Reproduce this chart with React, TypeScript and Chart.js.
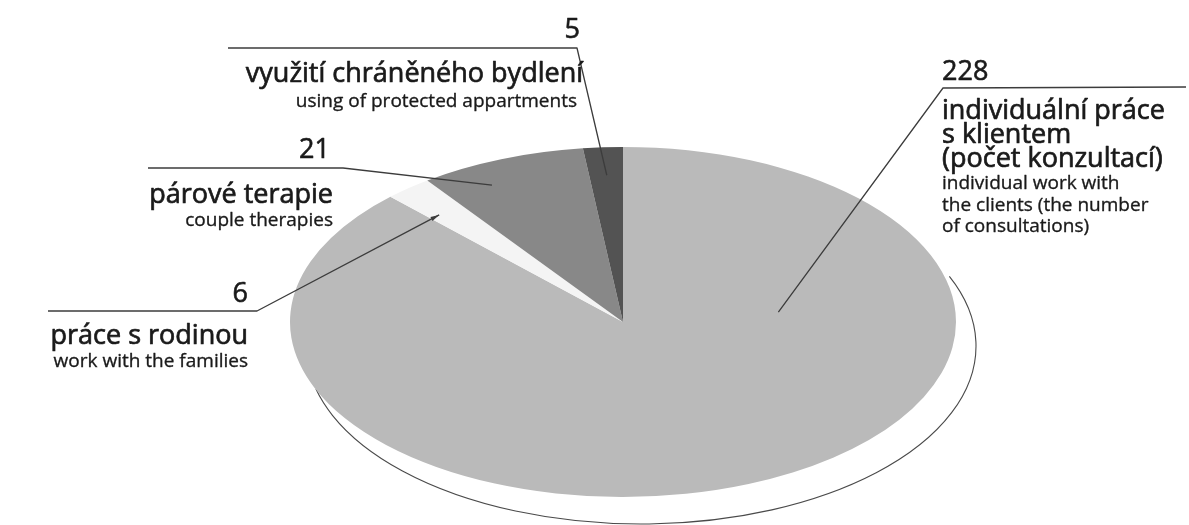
import React, { useEffect, useRef } from "react";
import { Chart, registerables } from "chart.js";

Chart.register(...registerables);

// ---- data ----
const categoriesCz: string[][] = [
  ["individuální práce", "s klientem", "(počet konzultací)"],
  ["práce s rodinou"],
  ["párové terapie"],
  ["využití chráněného bydlení"],
];
const categoriesEn: string[][] = [
  ["individual work with", "the clients (the number", "of consultations)"],
  ["work with the families"],
  ["couple therapies"],
  ["using of protected appartments"],
];
const values = [228, 6, 21, 5];
const sliceColors = ["#bababa", "#f4f4f4", "#888888", "#535353"];

// ---- layout (positions / styles) ----
const W = 1189;
const H = 525;
const CX = 623;
const CY = 322;
const RX = 333;
const RY = 175;
const FONT = '"Open Sans", "DejaVu Sans", sans-serif';
const TEXT_COLOR = "#1a1a1a";
const LINE_COLOR = "#3c3c3c";

type Layout = {
  align: "left" | "right";
  numX: number;
  numY: number;
  x: number;
  czY: number;
  enX: number;
  enY: number;
  line: number[][];
  target: number[]; // [fraction along slice angle, fraction of radius]
  arrow?: boolean;
};

const labelLayout: Layout[] = [
  { align: "left", numX: 942, numY: 80, x: 942, czY: 119, enX: 942, enY: 189, line: [[1186, 87], [943, 88]], target: [0.263, 0.47] },
  { align: "right", numX: 248, numY: 302, x: 248, czY: 344, enX: 248, enY: 367, line: [[48, 311], [257, 311]], target: [0.27, 0.824], arrow: true },
  { align: "right", numX: 330, numY: 158, x: 333, czY: 203, enX: 333, enY: 226, line: [[148, 168], [343, 168]], target: [0.32, 0.876] },
  { align: "right", numX: 580, numY: 38, x: 583, czY: 82, enX: 577, enY: 107, line: [[228, 48], [577, 48]], target: [0.52, 0.84] },
];

function drawText(ctx: CanvasRenderingContext2D, t: string, x: number, y: number, stroke: number) {
  ctx.fillText(t, x, y);
  if (stroke > 0) {
    ctx.lineWidth = stroke;
    ctx.strokeText(t, x, y);
  }
}

const ellipsePlugin = {
  id: "ellipsePie",
  beforeDatasetsDraw(chart: any) {
    const ctx: CanvasRenderingContext2D = chart.ctx;
    // rim outline of the tilted disc
    ctx.save();
    ctx.beginPath();
    ctx.ellipse(641, 346, 335, 178, 0, (-23 * Math.PI) / 180, (166 * Math.PI) / 180);
    ctx.strokeStyle = "#4a4a4a";
    ctx.lineWidth = 1.1;
    ctx.stroke();
    ctx.restore();

    const arc = chart.getDatasetMeta(0).data[0];
    const r = arc.outerRadius;
    ctx.save();
    ctx.translate(CX, CY);
    ctx.scale(RX / r, RY / r);
    ctx.translate(-arc.x, -arc.y);
  },
  afterDatasetsDraw(chart: any) {
    chart.ctx.restore();
  },
  afterDraw(chart: any) {
    const ctx: CanvasRenderingContext2D = chart.ctx;
    const meta = chart.getDatasetMeta(0);
    ctx.save();
    meta.data.forEach((arc: any, i: number) => {
      const L = labelLayout[i];
      const r = arc.outerRadius;
      const ang = arc.startAngle + L.target[0] * (arc.endAngle - arc.startAngle);
      const rr = L.target[1] * r;
      const tx = CX + (Math.cos(ang) * rr * RX) / r;
      const ty = CY + (Math.sin(ang) * rr * RY) / r;

      // leader line
      ctx.beginPath();
      ctx.moveTo(L.line[0][0], L.line[0][1]);
      ctx.lineTo(L.line[1][0], L.line[1][1]);
      ctx.lineTo(tx, ty);
      ctx.strokeStyle = LINE_COLOR;
      ctx.lineWidth = 1.3;
      ctx.stroke();
      if (L.arrow) {
        const a = Math.atan2(ty - L.line[1][1], tx - L.line[1][0]);
        ctx.beginPath();
        ctx.moveTo(tx, ty);
        ctx.lineTo(tx - 9 * Math.cos(a - 0.25), ty - 9 * Math.sin(a - 0.25));
        ctx.lineTo(tx - 9 * Math.cos(a + 0.25), ty - 9 * Math.sin(a + 0.25));
        ctx.closePath();
        ctx.fillStyle = LINE_COLOR;
        ctx.fill();
      }

      ctx.fillStyle = TEXT_COLOR;
      ctx.strokeStyle = TEXT_COLOR;
      ctx.lineJoin = "round";
      ctx.textAlign = L.align;
      ctx.textBaseline = "alphabetic";
      ctx.font = `400 27px ${FONT}`;
      drawText(ctx, String(values[i]), L.numX, L.numY, 0.6);

      ctx.font = `400 27px ${FONT}`;
      categoriesCz[i].forEach((t, k) => drawText(ctx, t, L.x, L.czY + k * 24, 0.7));
      ctx.font = `400 19px ${FONT}`;
      categoriesEn[i].forEach((t, k) => drawText(ctx, t, L.enX, L.enY + k * 21.5, 0.35));
    });
    ctx.restore();
  },
};

export default function App() {
  const ref = useRef<HTMLCanvasElement | null>(null);
  useEffect(() => {
    document.body.style.margin = "0";
    const canvas = ref.current;
    if (!canvas) return;
    const chart = new Chart(canvas, {
      type: "pie",
      data: {
        labels: categoriesCz.map((l) => l.join(" ")),
        datasets: [
          {
            data: values,
            backgroundColor: sliceColors,
            borderWidth: 0,
            hoverOffset: 0,
          },
        ],
      },
      options: {
        responsive: false,
        animation: false,
        events: [],
        layout: { padding: 0 },
        plugins: {
          legend: { display: false },
          tooltip: { enabled: false },
        },
      },
      plugins: [ellipsePlugin],
    });
    return () => chart.destroy();
  }, []);
  return (
    <div style={{ position: "absolute", left: 0, top: 0, width: W, height: H, background: "#fff" }}>
      <canvas ref={ref} width={W} height={H} style={{ width: W, height: H, display: "block" }} />
    </div>
  );
}
